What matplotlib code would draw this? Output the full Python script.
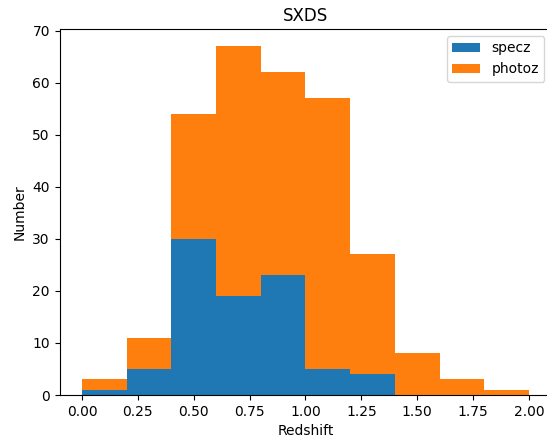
import numpy as np
import matplotlib.pyplot as plt

bin_edges = [0.0, 0.2, 0.4, 0.6, 0.8, 1.0, 1.2, 1.4, 1.6, 1.8, 2.0]
specz = [1, 5, 30, 19, 23, 5, 4, 0, 0, 0]
total = [3, 11, 54, 67, 62, 57, 27, 8, 3, 1]
photoz = [t - s for t, s in zip(total, specz)]

centers = 0.5 * (np.array(bin_edges[:-1]) + np.array(bin_edges[1:]))

fig = plt.figure(figsize=(5.47, 4.37), dpi=100)
ax = fig.add_axes([0.109, 0.096, 0.899, 0.838])
ax.hist([centers, centers], bins=bin_edges, weights=[specz, photoz],
        stacked=True, label=['specz', 'photoz'])
ax.set_title('SXDS')
ax.set_xlabel('Redshift')
ax.set_ylabel('Number')
ax.legend(loc='upper right')
fig.savefig('out.png')
